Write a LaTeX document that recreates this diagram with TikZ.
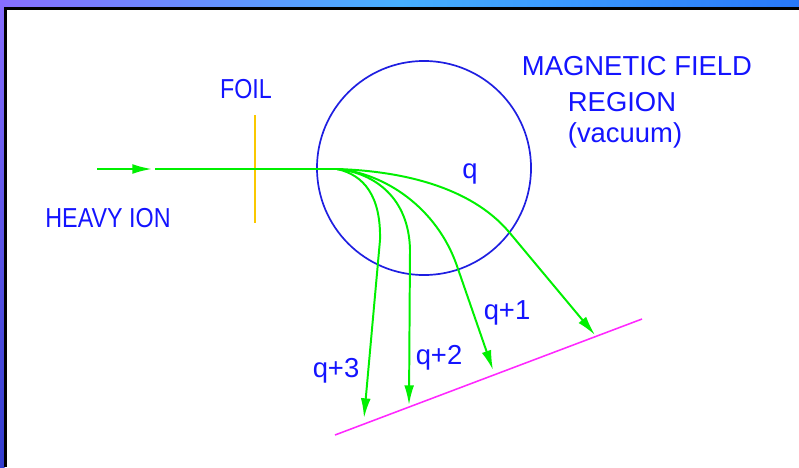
\documentclass[tikz,border=0pt]{standalone}
\usepackage{fontspec}
\setmainfont{Liberation Sans}
\usepackage{xcolor}
\usepackage{tikz}
\usetikzlibrary{arrows.meta,calc,positioning}

\definecolor{labelblue}{RGB}{20,20,255}
\definecolor{fieldblue}{RGB}{30,30,225}
\definecolor{beamgreen}{RGB}{0,240,0}
\definecolor{foilgold}{RGB}{250,200,0}
\definecolor{detmagenta}{RGB}{255,40,255}
\definecolor{frameleft}{RGB}{135,110,255}
\definecolor{framemid}{RGB}{70,175,255}
\definecolor{frameright}{RGB}{40,120,250}
\definecolor{framebottom}{RGB}{50,60,205}

\newcommand{\narrow}[1]{\scalebox{0.85}[1]{#1}}

\tikzset{
  lbl/.style={text=labelblue,font=\fontsize{19.5pt}{23.5pt}\selectfont,inner sep=0pt},
  beam/.style={draw=beamgreen,line width=1.4pt},
  orbit/.style={beam,-{Latex[length=14pt,width=7pt]}}
}

\begin{document}
\begin{tikzpicture}[x=0.025cm,y=-0.025cm]
  % frame
  \fill[white] (0,0) rectangle (799,467);
  \useasboundingbox (0,0) rectangle (799,467);
  \shade[left color=frameleft,right color=frameright,middle color=framemid] (0,0) rectangle (799,7.5);
  \shade[top color=frameleft,bottom color=framebottom] (0,0) rectangle (4.5,467);
  \draw[line width=1.5pt] (5.5,467) -- (5.5,8.5) -- (799,8.5);

  % field region and foil
  \node[circle,draw=fieldblue,line width=1.2pt,minimum size=5.35cm,inner sep=0pt] (field) at (424,168) {};
  \coordinate (foiltop) at (255,115);
  \coordinate (foilbot) at (255,223);
  \draw[foilgold,line width=1.1pt] (foiltop) -- (foilbot);

  % incoming ion
  \coordinate (src) at (97,169);
  \coordinate (iontip) at (152,169);
  \coordinate (ionrest) at (155,169);
  \coordinate (split) at (337,169);
  \draw[orbit] (src) -- (iontip);
  \draw[beam] (ionrest) -- (split);

  % detector
  \coordinate (detA) at (335,435);
  \coordinate (detB) at (642,319);
  \draw[detmagenta,line width=1.1pt] (detA) -- (detB);

  % charge states
  \coordinate (endq) at (595,335);
  \coordinate (endq1) at (493,370);
  \coordinate (endq2) at (409,405);
  \coordinate (endq3) at (364,418);
  \draw[orbit] (split) .. controls (400,171) and (470,186) .. (509,232) -- (endq);
  \draw[orbit] (split) .. controls (385,173) and (437,208) .. (457,266) -- (endq1);
  \draw[orbit] (split) .. controls (375,173) and (409,198) .. (410,250) -- (endq2);
  \draw[orbit] (split) .. controls (364,175) and (381,196) .. (380,240) -- (endq3);

  % labels
  \node[lbl] (foil) at (246,89) {\narrow{FOIL}};
  \node[lbl] (ion) at (108,218) {\narrow{HEAVY ION}};
  \node[lbl] (mag) at (637,66) {MAGNETIC FIELD};
  \node[lbl] (region) at (622,102) {REGION};
  \node[lbl] (vac) at (625,135) {(vacuum)};
  \node[lbl] (q0) at (470,174) {q};
  \node[lbl] (q1) at (507,313) {q+1};
  \node[lbl] (q2) at (439,358) {q+2};
  \node[lbl] (q3) at (336,371) {q+3};
\end{tikzpicture}
\end{document}
